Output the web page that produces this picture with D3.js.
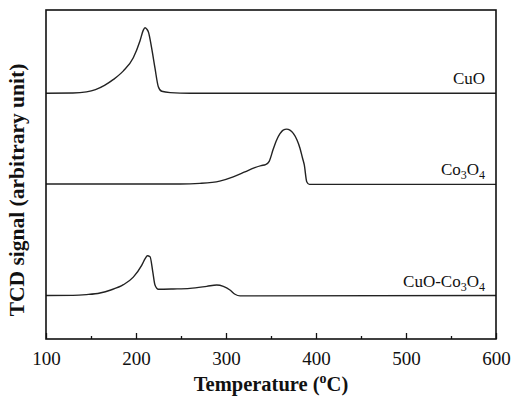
<!DOCTYPE html>
<html>
<head>
<meta charset="utf-8">
<script src="https://cdn.jsdelivr.net/npm/d3@7"></script>
<style>
  body { margin: 0; background: #fff; }
  text { font-family: "Liberation Serif", "Times New Roman", serif; fill: #111; }
</style>
</head>
<body>
<div id="chart"></div>
<script>
// temperature (C) and TCD signal (arbitrary, 0-100 over the frame height)
const cuo = [
    [100, 74.7], [130, 74.75], [145, 75.1], [155, 75.8], [165, 77.1], [175, 78.9],
    [186, 81.5], [197, 85.5], [204.4, 90.6], [208, 93.8], [210, 94.6], [212, 94.2],
    [213.7, 93.4], [217.4, 88.4], [221.1, 82.3], [224.8, 76.7], [228.6, 75.3],
    [238, 74.9], [260, 74.7], [600, 74.7]
];
const co3o4 = [
    [100, 47.1], [249, 47.1], [271, 47.3], [293, 48.0], [308, 49.3], [321, 50.8],
    [332, 52.1], [339, 52.7], [344, 53.0], [348, 54.0], [352.6, 57.8], [356.3, 60.5],
    [360, 62.4], [363.5, 63.5], [367.4, 63.8], [371, 63.5], [374.8, 62.5], [378.9, 60.5],
    [382.2, 58.0], [385, 55.0], [387, 52.9], [389.7, 47.8], [392.6, 47.0], [600, 47.0]
];
const cuoCo3o4 = [
    [100, 13.2], [130, 13.25], [145, 13.5], [160, 14.0], [172, 14.9], [186, 16.5],
    [197, 18.8], [206.3, 22.4], [210.5, 24.6], [212.6, 25.3], [215.6, 25.0], [218.6, 20.5],
    [221.1, 16.4], [224.8, 15.1], [241.4, 15.2], [260, 15.4], [278.6, 16.0],
    [289.7, 16.4], [297, 16.0], [304.4, 14.9], [310, 13.6], [315.6, 13.1], [600, 13.2]
];
const series = [
    { name: "CuO", data: cuo, parts: [["CuO", false]] },
    { name: "Co3O4", data: co3o4, parts: [["Co", false], ["3", true], ["O", false], ["4", true]] },
    { name: "CuO-Co3O4", data: cuoCo3o4, parts: [["CuO-Co", false], ["3", true], ["O", false], ["4", true]] }
];
const majorTicks = [100, 200, 300, 400, 500, 600];
const minorTicks = [150, 250, 350, 450, 550];

const width = 513,
      height = 398,
      margin = ({top: 10, right: 17, bottom: 59, left: 46});

let svg = d3.select("#chart")
    .append("svg")
    .attr("width", width)
    .attr("height", height);

let x = d3.scaleLinear()
    .domain([100, 600])
    .range([margin.left, width - margin.right]);

let y = d3.scaleLinear()
    .domain([0, 100])
    .range([height - margin.bottom, margin.top]);

// ticks point inward from the bottom edge
svg.append("g")
    .attr("transform", `translate(0, ${height - margin.bottom})`)
    .call(d3.axisBottom(x).tickValues(majorTicks).tickSize(-6).tickPadding(13).tickFormat(d3.format("d")))
    .call(g => g.select(".domain").remove())
    .call(g => g.selectAll(".tick line").attr("stroke", "#111").attr("stroke-width", 1.3))
    .call(g => g.selectAll(".tick text").attr("font-size", 19).attr("font-family", "Liberation Serif").attr("fill", "#111"));

svg.append("g")
    .attr("transform", `translate(0, ${height - margin.bottom})`)
    .call(d3.axisBottom(x).tickValues(minorTicks).tickSize(-3).tickFormat(""))
    .call(g => g.select(".domain").remove())
    .call(g => g.selectAll(".tick line").attr("stroke", "#111").attr("stroke-width", 1.3));

let line = d3.line()
    .x(d => x(d[0]))
    .y(d => y(d[1]))
    .curve(d3.curveMonotoneX);

svg.selectAll(".curve")
    .data(series)
    .join("path")
    .attr("class", "curve")
    .attr("fill", "none")
    .attr("stroke", "#222")
    .attr("stroke-width", 1.4)
    .attr("d", d => line(d.data));

// frame
svg.append("rect")
    .attr("x", margin.left)
    .attr("y", margin.top)
    .attr("width", width - margin.left - margin.right)
    .attr("height", height - margin.top - margin.bottom)
    .attr("fill", "none")
    .attr("stroke", "#111")
    .attr("stroke-width", 1.6);

// series labels, right aligned above the flat tail of each curve
let label = svg.selectAll(".label")
    .data(series)
    .join("text")
    .attr("class", "label")
    .attr("text-anchor", "end")
    .attr("font-size", 17)
    .attr("x", x(600) - 11)
    .attr("y", d => y(d.data[d.data.length - 1][1]) - 9);

label.selectAll("tspan")
    .data(d => d.parts)
    .join("tspan")
    .attr("font-size", p => p[1] ? 12 : 17)
    .attr("dy", (p, i, n) => {
        const prev = i > 0 ? d3.select(n[i - 1]).datum()[1] : false;
        if (p[1] && !prev) return 4;
        if (!p[1] && prev) return -4;
        return 0;
    })
    .text(p => p[0]);

// axis titles
svg.append("text")
    .attr("x", (margin.left + width - margin.right) / 2)
    .attr("y", 391)
    .attr("text-anchor", "middle")
    .attr("font-size", 20.5)
    .attr("font-weight", "bold")
    .call(t => t.append("tspan").text("Temperature ("))
    .call(t => t.append("tspan").attr("font-size", 14).attr("dy", -8).text("o"))
    .call(t => t.append("tspan").attr("dy", 8).text("C)"));

svg.append("text")
    .attr("transform", `translate(24, 190) rotate(-90)`)
    .attr("text-anchor", "middle")
    .attr("font-size", 21.5)
    .attr("font-weight", "bold")
    .text("TCD signal (arbitrary unit)");
</script>
</body>
</html>
